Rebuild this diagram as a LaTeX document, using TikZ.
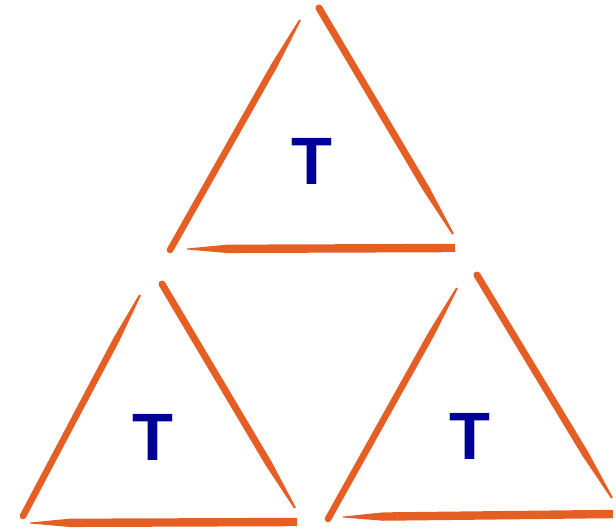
\documentclass[tikz,border=0pt]{standalone}
\usepackage{fontspec}
\setmainfont{Liberation Sans}
\usetikzlibrary{calc}
\definecolor{brushorange}{RGB}{229,94,36}
\definecolor{letterblue}{RGB}{0,0,150}
\tikzstyle{letter} = [inner sep=0, text=letterblue, font=\fontsize{67}{67}\selectfont\bfseries]
% brush stroke: from (#1) to (#2), half width #3, thinning to #4 after fraction #5 of the way
\newcommand{\brush}[5]{%
  \fill[brushorange] ($(#1)!#3!90:(#2)$) -- ($($(#1)!#5!(#2)$)!#3!-90:(#1)$) -- ($(#2)!#4!-90:(#1)$)
     -- ($(#2)!#4!90:(#1)$) -- ($($(#1)!#5!(#2)$)!#3!90:(#1)$) -- ($(#1)!#3!-90:(#2)$) -- cycle;}

\begin{document}
\begin{tikzpicture}[x=1pt,y=-1pt]
    \useasboundingbox (0,0) rectangle (616,530);

    % Top triangle
    \brush{170,250}{300,20}{3.3pt}{1pt}{0.8}
    \fill[brushorange] (170,250) circle (3.3pt);
    \brush{319,8}{453,234}{3.5pt}{1pt}{0.8}
    \fill[brushorange] (319,8) circle (3.5pt);
    \brush{455,248}{187,249}{4.2pt}{0.5pt}{0.85}
    \node (ttop) at (312,161) [letter] {T};

    % Bottom left triangle
    \brush{23,516}{140,295}{3.3pt}{1pt}{0.8}
    \fill[brushorange] (23,516) circle (3.3pt);
    \brush{162,284}{295,508}{3.5pt}{1pt}{0.8}
    \fill[brushorange] (162,284) circle (3.5pt);
    \brush{297,522}{30,523}{4.2pt}{0.5pt}{0.85}
    \node (tleft) at (153,437) [letter] {T};

    % Bottom right triangle
    \brush{328,519}{457,288}{3.3pt}{1pt}{0.8}
    \fill[brushorange] (328,519) circle (3.3pt);
    \brush{477,275}{612,498}{3.5pt}{1pt}{0.8}
    \fill[brushorange] (477,275) circle (3.5pt);
    \brush{613,514}{343,517}{4.2pt}{0.5pt}{0.85}
    \node (tright) at (470,436) [letter] {T};

\end{tikzpicture}
\end{document}
